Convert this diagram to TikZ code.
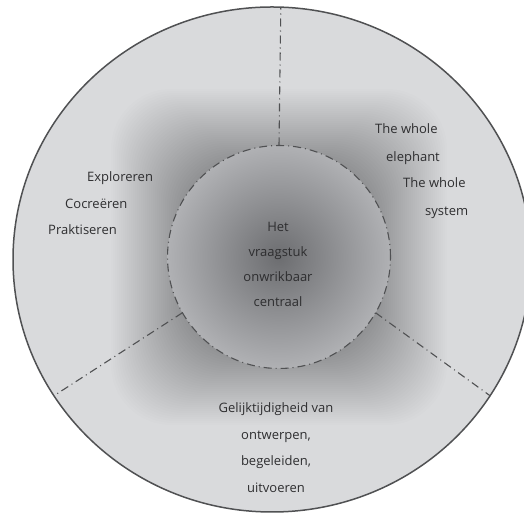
\documentclass[tikz,border=0pt]{standalone}
\usepackage{fontspec}
\setmainfont{Open Sans}
\usetikzlibrary{shapes.geometric}
\definecolor{rimfill}{HTML}{D9DADC}
\definecolor{rimline}{HTML}{505153}
\definecolor{coredark}{HTML}{6C6D70}
\definecolor{corelight}{HTML}{B0B1B4}
\definecolor{inktext}{HTML}{2E2E30}

\begin{document}
\begin{tikzpicture}[
  x=1pt, y=1pt,
  rimdisc/.style={
    ellipse, draw=rimline, fill=rimfill, line width=1.5pt,
    minimum width=518pt, minimum height=505pt,
    inner sep=0pt, outer sep=0pt,
  },
  coredisc/.style={
    circle, minimum size=223pt, inner sep=0pt, outer sep=0pt,
    inner color=coredark, outer color=corelight,
    draw=rimline, line width=1.1pt,
    dash pattern=on 8pt off 4pt on 1pt off 4pt,
  },
  divider/.style={draw=rimline, line width=1.1pt,
    dash pattern=on 8pt off 4pt on 1pt off 4pt},
  wordline/.style={inner sep=0pt, text=inktext,
    font=\fontsize{13}{15}\selectfont},
]
\useasboundingbox (0,0) rectangle (524,513);

% --- outer disc -----------------------------------------------------
\node[rimdisc] (rim) at (272,253.5) {};

% --- soft square shadow behind the core -----------------------------
\foreach \s in {168,166,...,84}
  \fill[black, opacity=0.0075, rounded corners=60pt]
    (279-\s,256-\s) rectangle (279+\s,256+\s);

% --- core -----------------------------------------------------------
\node[coredisc] (core) at (279,256) {};

\foreach \a/\b in {90/88.6, 210/212, 330/328}
  \draw[divider] (core.\a) -- (rim.\b);

% --- centre text ----------------------------------------------------
\foreach \txt [count=\i] in {Het, vraagstuk, onwrikbaar, centraal}
  \node[wordline, anchor=base] (mid\i) at (278,281.3-25*\i+25) {\txt};

% --- left sector ----------------------------------------------------
\node[wordline, anchor=base west] (left1) at (87,331.3) {Exploreren};
\node[wordline, anchor=base west] (left2) at (65,304.7) {Cocreëren};
\node[wordline, anchor=base west] (left3) at (48,278) {Praktiseren};

% --- right sector ---------------------------------------------------
\node[wordline, anchor=base west] (right1) at (375,379) {The whole};
\node[wordline, anchor=base west] (right2) at (386,351.3) {elephant};
\node[wordline, anchor=base west] (right3) at (403,325) {The whole};
\node[wordline, anchor=base west] (right4) at (425,297.3) {system};

% --- bottom sector --------------------------------------------------
\foreach \txt [count=\i] in {Gelijktijdigheid van, {ontwerpen,}, {begeleiden,}, uitvoeren}
  \node[wordline, anchor=base] (low\i) at (276,100-26.5*\i+26.5) {\txt};

\end{tikzpicture}
\end{document}
